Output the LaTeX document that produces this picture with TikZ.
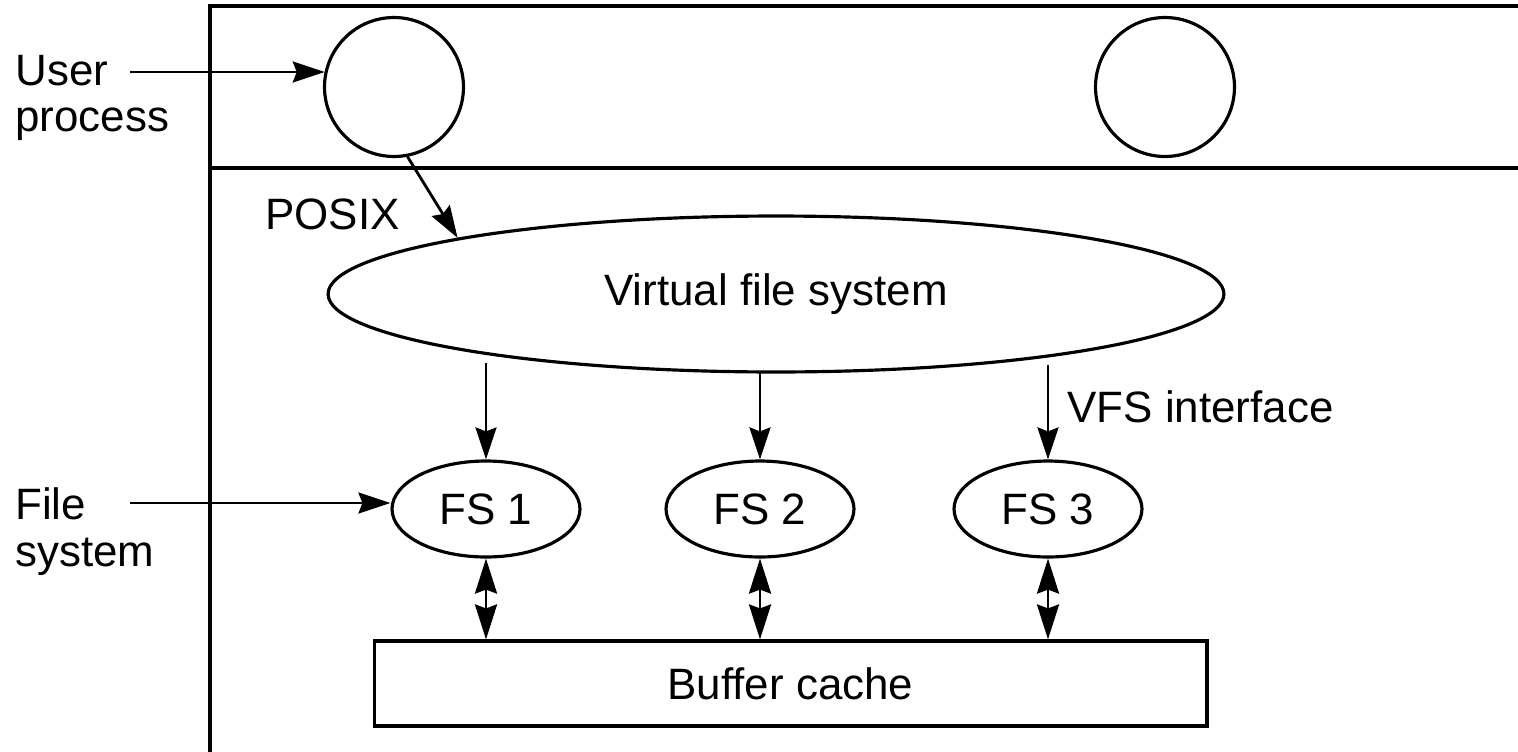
\documentclass[tikz,border=0pt]{standalone}
\usepackage{fontspec}
\setmainfont{Liberation Sans}
\usetikzlibrary{shapes.geometric,arrows.meta}
\begin{document}
\begin{tikzpicture}[x=0.02cm,y=-0.02cm, line width=1.6pt,
  lbl/.style={font=\fontsize{25}{26.6}\selectfont, inner sep=0pt},
  proc/.style={circle, draw, line width=1.8pt, minimum size=2.78cm, inner sep=0pt},
  vfsell/.style={ellipse, draw, line width=1.8pt, inner sep=0pt, minimum width=17.92cm, minimum height=3.12cm, font=\fontsize{25}{23}\selectfont},
  fsell/.style={ellipse, draw, line width=1.8pt, inner sep=0pt, minimum width=3.76cm, minimum height=1.92cm, font=\fontsize{25}{23}\selectfont},
  bufbox/.style={rectangle, draw, line width=1.8pt, inner sep=0pt, minimum width=16.66cm, minimum height=1.7cm, font=\fontsize{25}{23}\selectfont},
  frame/.style={line width=2pt},
  tip/.tip={Stealth[length=0.64cm,width=0.42cm,inset=0.08cm]},
  btip/.tip={Stealth[length=0.7cm,width=0.44cm,inset=0.08cm]},
  arr/.style={-tip},
  darr/.style={btip-btip},
]
\useasboundingbox (0,0) rectangle (1518,751);
% frame
\draw[frame] (1530,6) -- (210,6) -- (210,760);
\draw[frame] (210,168) -- (1530,168);
% nodes
\node[proc] (p1) at (394,87) {};
\node[proc] (p2) at (1165,87) {};
\node[vfsell] (vfs) at (776,294) {Virtual file system};
\node[fsell] (fs1) at (486,509) {FS 1};
\node[fsell] (fs2) at (760,509) {FS 2};
\node[fsell] (fs3) at (1048,509) {FS 3};
\node[bufbox] (buf) at (790.5,683.5) {Buffer cache};
% labels
\node[lbl, anchor=west, align=left] (luser) at (14,98) {User\\process};
\node[lbl, anchor=west, align=left] (lfile) at (14,532) {File\\system};
\node[lbl, anchor=west] (lposix) at (264,214) {POSIX};
\node[lbl, anchor=west] (lvfsi) at (1066,407) {VFS interface};
% connectors
\coordinate (ua) at (130,72);
\coordinate (fa) at (130,503);
\draw[arr] (ua) -- (ua -| p1.167);
\draw[arr] (fa) -- (fa -| fs1.west);
\draw[arr] (p1.-79) -- (vfs.170.2);
\coordinate (v1) at (486,363);
\coordinate (v2) at (760,373);
\coordinate (v3) at (1048,365);
\draw[arr] (v1) -- (fs1.north);
\draw[arr] (v2) -- (fs2.north);
\draw[arr] (v3) -- (fs3.north);
\draw[darr] (fs1.south) -- (fs1.south |- buf.north);
\draw[darr] (fs2.south) -- (fs2.south |- buf.north);
\draw[darr] (fs3.south) -- (fs3.south |- buf.north);
\end{tikzpicture}
\end{document}
